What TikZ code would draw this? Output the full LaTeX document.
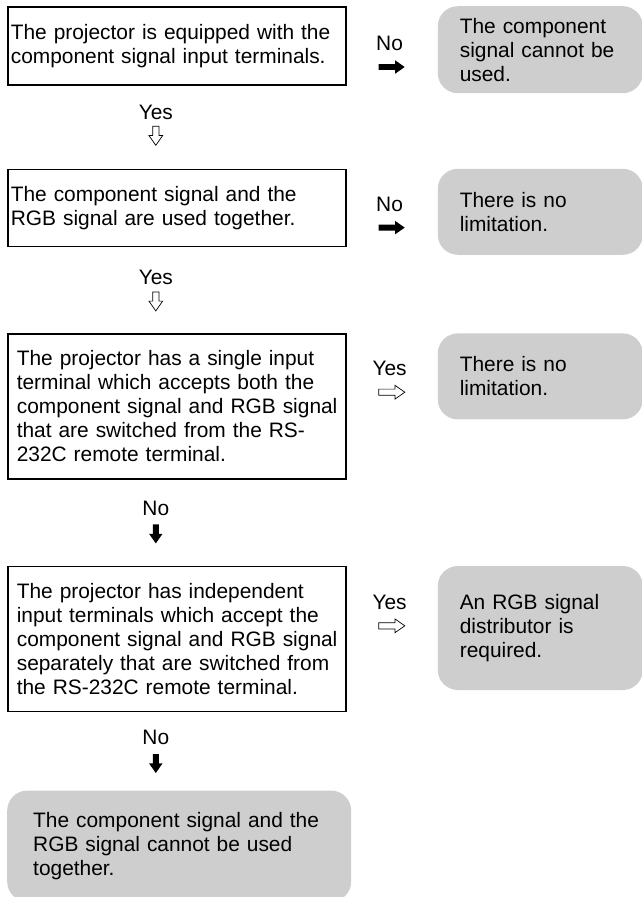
\documentclass[tikz,border=0pt]{standalone}
\usepackage{fontspec}
\setmainfont{Liberation Sans}
\usepackage{tikz}
\usetikzlibrary{positioning}
\usetikzlibrary{calc}
\usetikzlibrary{shapes.arrows}

\definecolor{boxgray}{RGB}{206,206,206}

\tikzset{
  question/.style={draw, line width=1.6pt, rectangle, inner xsep=3pt, text width=332pt, align=left},
  wide/.style={execute at begin node={\leftskip=6pt}},
  result/.style={fill=boxgray, rounded corners=20pt, inner xsep=22pt, text width=161pt, align=left},
  answer/.style={inner sep=0pt, text height=15pt, text depth=4pt},
  arrowtip/.style={single arrow, inner sep=2.75pt, minimum width=13pt, single arrow head extend=3.75pt, single arrow tip angle=70},
  hollowright/.style={arrowtip, draw, fill=white, line width=0.7pt, minimum height=26pt},
  solidright/.style={arrowtip, fill=black, minimum height=26pt},
  hollowdown/.style={hollowright, minimum height=19pt, rotate=-90},
  soliddown/.style={solidright, minimum height=19pt, rotate=-90},
}

\begin{document}
\begin{tikzpicture}[every node/.style={font=\fontsize{20.9pt}{24pt}\selectfont}]
\useasboundingbox (0,0) rectangle (641pt,-897pt);

\node (Q1) [question, minimum height=78pt, anchor=north west] at (7pt,-6pt) {The projector is equipped with the\\component signal input terminals.};
\node (Q2) [question, minimum height=77pt, below=83pt of Q1] {The component signal and the\\RGB signal are used together.};
\node (Q3) [question, wide, minimum height=145pt, below=86pt of Q2] {The projector has a single input\\terminal which accepts both the\\component signal and RGB signal\\that are switched from the RS-\\232C remote terminal.};
\node (Q4) [question, wide, minimum height=145pt, below=86pt of Q3] {The projector has independent\\input terminals which accept the\\component signal and RGB signal\\separately that are switched from\\the RS-232C remote terminal.};
\node (R5) [result, inner xsep=26pt, text width=292pt, minimum height=111pt, below=78pt of Q4.south west, anchor=north west] {The component signal and the\\RGB signal cannot be used\\together.};

\node (R1) [result, minimum height=87pt, below right=0pt and 91pt of Q1.north east] {The component\\signal cannot be\\used.};
\node (R2) [result, minimum height=86pt, below right=0pt and 91pt of Q2.north east] {There is no\\limitation.};
\node (R3) [result, minimum height=86pt, below right=0pt and 91pt of Q3.north east] {There is no\\limitation.};
\node (R4) [result, minimum height=124pt, below right=0pt and 91pt of Q4.north east] {An RGB signal\\distributor is\\required.};

% answers to the right
\node (N1) [answer] at ($(R1.north west)+(-48pt,-39pt)$) {No};
\node (S1) [solidright] at ($(N1)+(0,-22pt)$) {};
\node (N2) [answer] at ($(R2.north west)+(-48pt,-37pt)$) {No};
\node (S2) [solidright] at ($(N2)+(0,-22pt)$) {};
\node (N3) [answer] at ($(R3.north west)+(-48pt,-37pt)$) {Yes};
\node (S3) [hollowright] at ($(N3)+(0,-22pt)$) {};
\node (N4) [answer] at ($(R4.north west)+(-48pt,-38pt)$) {Yes};
\node (S4) [hollowright] at ($(N4)+(0,-22pt)$) {};

% answers downwards
\node (V1) [answer] at ($(Q1.south)+(-21pt,-28pt)$) {Yes};
\node (D1) [hollowdown] at ($(V1)+(0,-20pt)$) {};
\node (V2) [answer] at ($(Q2.south)+(-21pt,-32pt)$) {Yes};
\node (D2) [hollowdown] at ($(V2)+(0,-20pt)$) {};
\node (V3) [answer] at ($(Q3.south)+(-21pt,-30pt)$) {No};
\node (D3) [soliddown] at ($(V3)+(0,-22pt)$) {};
\node (V4) [answer] at ($(Q4.south)+(-21pt,-27pt)$) {No};
\node (D4) [soliddown] at ($(V4)+(0,-22pt)$) {};
\end{tikzpicture}
\end{document}
